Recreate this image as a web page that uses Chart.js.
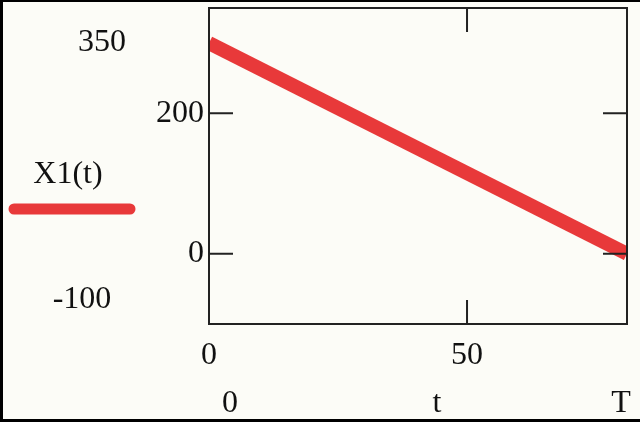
<!DOCTYPE html>
<html lang="en">
  <head>
    <meta charset="utf-8" />
    <style>
      * {
        margin: 0;
        padding: 0;
      }
      body {
        background: #fcfcf7;
      }
      .chartBox {
        width: 640px;
        height: 422px;
        position: relative;
      }
    </style>
  </head>
  <body>
    <div class="chartBox">
      <canvas id="myChart"></canvas>
    </div>
    <script src="https://cdn.jsdelivr.net/npm/chart.js/dist/chart.umd.min.js"></script>
    <script>
      // data
      const T = 81;
      const tValues = [0, T];
      const x1Values = [300, 0];
      const yTicks = [0, 200];
      const xTicks = [0, 50];
      const yRange = [-100, 350];

      const red = "#e8393a";
      const serif = "'Liberation Serif', 'DejaVu Serif', serif";

      // frame, inward ticks and the Mathcad-style labels
      const mathcadPlugin = {
        id: "mathcad",
        afterDraw(chart) {
          const { ctx, chartArea: a, scales } = chart;
          ctx.save();
          ctx.strokeStyle = "#222";
          ctx.lineWidth = 2;
          ctx.strokeRect(a.left, a.top, a.right - a.left, a.bottom - a.top);

          ctx.beginPath();
          yTicks.forEach((v) => {
            const y = scales.y.getPixelForValue(v);
            ctx.moveTo(a.left, y);
            ctx.lineTo(a.left + 24, y);
            ctx.moveTo(a.right, y);
            ctx.lineTo(a.right - 24, y);
          });
          xTicks.slice(1).forEach((v) => {
            const x = scales.x.getPixelForValue(v);
            ctx.moveTo(x, a.bottom);
            ctx.lineTo(x, a.bottom - 24);
            ctx.moveTo(x, a.top);
            ctx.lineTo(x, a.top + 24);
          });
          ctx.stroke();

          ctx.fillStyle = "#111";
          ctx.font = "32px " + serif;
          ctx.textAlign = "center";
          ctx.textBaseline = "middle";
          ctx.fillText(String(yRange[1]), 102, 43);
          ctx.fillText(String(yRange[0]), 82, 300);
          ctx.fillText("X1(t)", 68, 175);
          ctx.fillText(String(tValues[0]), 230, 404);
          ctx.fillText("t", 437, 404);
          ctx.fillText("T", 621, 404);

          // legend swatch
          ctx.strokeStyle = red;
          ctx.lineWidth = 11;
          ctx.lineCap = "round";
          ctx.beginPath();
          ctx.moveTo(14, 209);
          ctx.lineTo(130, 209);
          ctx.stroke();

          // outer frame of the picture
          ctx.fillStyle = "#000";
          ctx.fillRect(0, 0, 640, 2);
          ctx.fillRect(0, 0, 3, 422);
          ctx.fillRect(0, 419, 640, 3);
          ctx.restore();
        },
      };

      const config = {
        type: "line",
        data: {
          datasets: [
            {
              label: "X1(t)",
              data: tValues.map((t, i) => ({ x: t, y: x1Values[i] })),
              borderColor: red,
              borderWidth: 14,
              borderCapStyle: "butt",
              pointRadius: 0,
              tension: 0,
            },
          ],
        },
        options: {
          responsive: false,
          animation: false,
          layout: { padding: { top: 8, right: 13, left: 0, bottom: 0 } },
          plugins: { legend: { display: false }, tooltip: { enabled: false } },
          scales: {
            x: {
              type: "linear",
              min: 0,
              max: T,
              afterBuildTicks: (s) => {
                s.ticks = xTicks.map((v) => ({ value: v }));
              },
              afterFit: (s) => {
                s.height = 98;
                s.paddingLeft = 0;
                s.paddingRight = 0;
              },
              grid: { display: false, drawTicks: false },
              border: { display: false },
              ticks: {
                padding: 12,
                maxRotation: 0,
                color: "#111",
                font: { family: serif, size: 32 },
              },
            },
            y: {
              type: "linear",
              min: yRange[0],
              max: yRange[1],
              afterBuildTicks: (s) => {
                s.ticks = yTicks.map((v) => ({ value: v }));
              },
              afterFit: (s) => {
                s.width = 209;
                s.paddingTop = 0;
                s.paddingBottom = 0;
              },
              grid: { display: false, drawTicks: false },
              border: { display: false },
              ticks: {
                padding: 5,
                color: "#111",
                font: { family: serif, size: 32 },
              },
            },
          },
        },
        plugins: [mathcadPlugin],
      };

      const canvas = document.getElementById("myChart");
      canvas.width = 640;
      canvas.height = 422;
      const myChart = new Chart(canvas, config);
    </script>
  </body>
</html>
